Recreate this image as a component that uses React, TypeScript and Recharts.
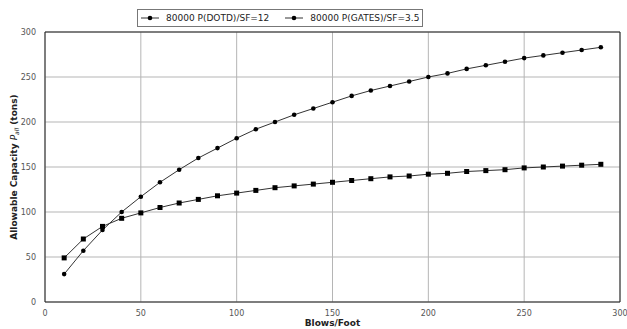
import React from "react";
import {
  LineChart,
  Line,
  XAxis,
  YAxis,
  CartesianGrid,
  Legend,
  ReferenceArea,
} from "recharts";

const blows = [
  10, 20, 30, 40, 50, 60, 70, 80, 90, 100, 110, 120, 130, 140, 150, 160, 170,
  180, 190, 200, 210, 220, 230, 240, 250, 260, 270, 280, 290,
];
const dotd = [
  31, 57, 80, 100, 117, 133, 147, 160, 171, 182, 192, 200, 208, 215, 222, 229,
  235, 240, 245, 250, 254, 259, 263, 267, 271, 274, 277, 280, 283,
];
const gates = [
  49, 70, 84, 93, 99, 105, 110, 114, 118, 121, 124, 127, 129, 131, 133, 135,
  137, 139, 140, 142, 143, 145, 146, 147, 149, 150, 151, 152, 153,
];
const ticks = [0, 50, 100, 150, 200, 250, 300];
const seriesNames = ["80000 P(DOTD)/SF=12", "80000 P(GATES)/SF=3.5"];

const data = blows.map((b, i) => ({ b, dotd: dotd[i], gates: gates[i] }));

const font = "'DejaVu Sans', sans-serif";
const lineColor = "#333";

const SquareDot = (props: any) => {
  const { cx, cy } = props;
  if (cx == null || cy == null) return null;
  return <rect x={cx - 2.5} y={cy - 2.5} width={5} height={5} fill="#000" />;
};

const CircleDot = (props: any) => {
  const { cx, cy } = props;
  if (cx == null || cy == null) return null;
  return <circle cx={cx} cy={cy} r={2.3} fill="#000" />;
};

const LegendBox = () => (
  <div
    style={{
      border: "1px solid #777",
      background: "#fff",
      display: "flex",
      alignItems: "center",
      gap: 16,
      padding: "3px 3px",
      fontFamily: font,
      fontSize: 9,
      color: "#222",
      whiteSpace: "nowrap",
    }}
  >
    {seriesNames.map((n) => (
      <span key={n} style={{ display: "flex", alignItems: "center", gap: 7 }}>
        <svg width={18} height={8}>
          <line x1={0} y1={4} x2={18} y2={4} stroke={lineColor} strokeWidth={1} />
          <circle cx={9} cy={4} r={2.3} fill="#000" />
        </svg>
        {n}
      </span>
    ))}
  </div>
);

export default function App() {
  return (
    <div style={{ position: "absolute", left: 0, top: 0, background: "#fff" }}>
      <LineChart
        width={627}
        height={329}
        data={data}
        margin={{ top: 32, right: 7, bottom: 0, left: 15 }}
      >
        <CartesianGrid stroke="#b5b5b5" strokeWidth={1} />
        <XAxis
          dataKey="b"
          type="number"
          domain={[0, 300]}
          ticks={ticks}
          height={27}
          tickLine={false}
          axisLine={false}
          tick={{ fontFamily: font, fontSize: 8, fill: "#555" }}
          tickMargin={2}
          label={{
            value: "Blows/Foot",
            position: "insideBottom",
            offset: 3,
            style: { fontFamily: font, fontSize: 9, fontWeight: "bold", fill: "#222" },
          }}
        />
        <YAxis
          type="number"
          domain={[0, 300]}
          ticks={ticks}
          width={30}
          tickLine={false}
          axisLine={false}
          tick={{ fontFamily: font, fontSize: 8, fill: "#555" }}
          tickMargin={3}
          label={(props: any) => {
            const vb = props.viewBox || {};
            const cy = (vb.y ?? 32) + (vb.height ?? 270) / 2;
            return (
              <text
                x={14}
                y={cy}
                transform={`rotate(-90, 14, ${cy})`}
                textAnchor="middle"
                dominantBaseline="central"
                style={{ fontFamily: font, fontSize: 9, fontWeight: "bold", fill: "#222" }}
              >
                Allowable Capacity{" "}
                <tspan fontStyle="italic" fontWeight="normal">P</tspan>
                <tspan fontStyle="italic" fontWeight="normal" fontSize={6} dy={2}>all</tspan>
                <tspan dy={-2}> (tons)</tspan>
              </text>
            );
          }}
        />
        <ReferenceArea
          x1={0}
          x2={300}
          y1={0}
          y2={300}
          fill="none"
          stroke="#222"
          strokeWidth={1}
          ifOverflow="visible"
        />
        <Legend
          layout="horizontal"
          verticalAlign="middle"
          content={<LegendBox />}
          wrapperStyle={{ top: 9, left: 137, width: "auto" }}
        />
        <Line
          dataKey="dotd"
          name={seriesNames[0]}
          stroke={lineColor}
          strokeWidth={1}
          dot={<CircleDot />}
          activeDot={false}
          isAnimationActive={false}
        />
        <Line
          dataKey="gates"
          name={seriesNames[1]}
          stroke={lineColor}
          strokeWidth={1}
          dot={<SquareDot />}
          activeDot={false}
          isAnimationActive={false}
        />
      </LineChart>
    </div>
  );
}
